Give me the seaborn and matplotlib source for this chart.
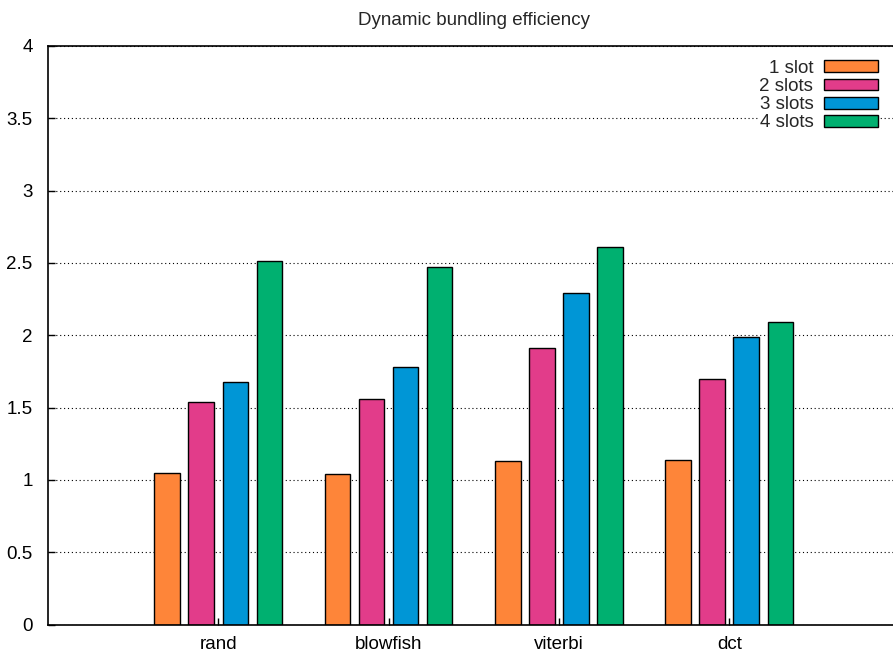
import matplotlib
matplotlib.use("Agg")
import matplotlib.pyplot as plt
import seaborn as sns
import pandas as pd

# Benchmarks and measured efficiency for each slot count
benchmarks = ["rand", "blowfish", "viterbi", "dct"]
slot_labels = ["1 slot", "2 slots", "3 slots", "4 slots"]
slot1 = [1.05, 1.04, 1.13, 1.14]
slot2 = [1.54, 1.56, 1.91, 1.70]
slot3 = [1.68, 1.78, 2.29, 1.99]
slot4 = [2.51, 2.47, 2.61, 2.09]
y_ticks = [0, 0.5, 1, 1.5, 2, 2.5, 3, 3.5, 4]
y_tick_labels = ["0", "0.5", "1", "1.5", "2", "2.5", "3", "3.5", "4"]
colors = ["#FE8539", "#E23C8A", "#0096D6", "#00B070"]

rows = []
for label, series in zip(slot_labels, [slot1, slot2, slot3, slot4]):
    for bench, val in zip(benchmarks, series):
        rows.append({"benchmark": bench, "slots": label, "efficiency": val})
df = pd.DataFrame(rows)

sns.set_style("white")
plt.rcParams["font.family"] = ["Liberation Sans", "DejaVu Sans"]

FS = 13.5
W, H = 893, 657
fig = plt.figure(figsize=(W / 100, H / 100), dpi=100)
left, right, top, bottom = 48, 899.5, 46, 624.5
ax = fig.add_axes([left / W, 1 - bottom / H, (right - left) / W, (bottom - top) / H])

sns.barplot(data=df, x="benchmark", y="efficiency", hue="slots",
            order=benchmarks, hue_order=slot_labels, palette=colors,
            width=0.8, gap=0.25, edgecolor="black", linewidth=1.0,
            saturation=1, errorbar=None, ax=ax)

ax.set_xlim(-1, 4)
ax.set_ylim(0, 4)
ax.set_yticks(y_ticks)
ax.set_yticklabels(y_tick_labels)
ax.set_xlabel("")
ax.set_ylabel("")
ax.set_axisbelow(True)
ax.yaxis.grid(True, color="black", linestyle=(0, (1, 2.5)), linewidth=0.8)
ax.xaxis.grid(False)

for side in ["left", "bottom", "top"]:
    ax.spines[side].set_visible(True)
    ax.spines[side].set_color("black")
    ax.spines[side].set_linewidth(1.2)
ax.spines["right"].set_visible(False)

ax.tick_params(axis="both", direction="in", length=5, width=1, colors="black",
               labelsize=FS, left=True, bottom=True)
ax.tick_params(axis="x", pad=8)
ax.tick_params(axis="y", pad=11)

ax.set_title("Dynamic bundling efficiency", fontsize=FS, pad=15)

leg = ax.legend(loc="upper right", bbox_to_anchor=(878 / W, 1 - 60 / H),
                bbox_transform=fig.transFigure, markerfirst=False,
                frameon=True, fancybox=False, framealpha=1, edgecolor="white",
                facecolor="white", fontsize=FS, handlelength=2.9,
                handleheight=0.6, labelspacing=0.06, handletextpad=0.55,
                borderpad=0, borderaxespad=0)
for t in leg.get_texts():
    t.set_ha("right")
leg._legend_box.align = "right"

fig.savefig("out.png", dpi=100)
